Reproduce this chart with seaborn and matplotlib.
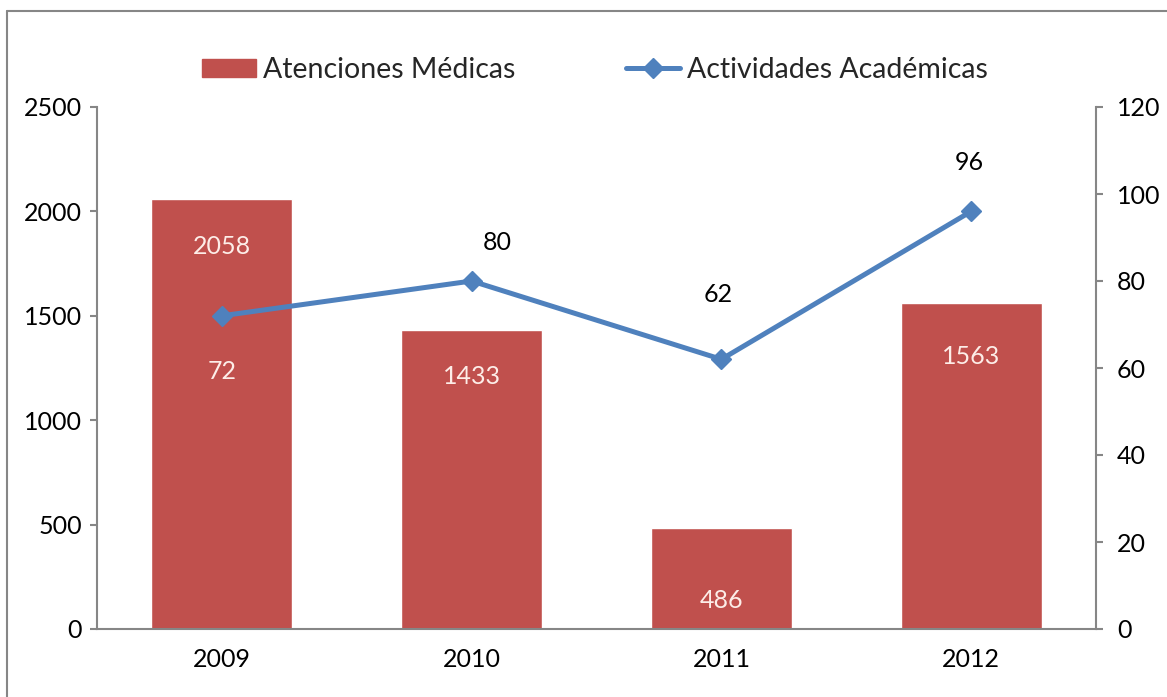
import matplotlib
matplotlib.use("Agg")
import matplotlib.pyplot as plt
import seaborn as sns
import pandas as pd
from matplotlib.lines import Line2D
from matplotlib.patches import Patch

years = ["2009", "2010", "2011", "2012"]
atenciones = [2058, 1433, 486, 1563]
actividades = [72, 80, 62, 96]
left_ticks = [0, 500, 1000, 1500, 2000, 2500]
right_ticks = [0, 20, 40, 60, 80, 100, 120]

sns.set_theme(style="white")
plt.rcParams['font.family'] = ['Lato', 'DejaVu Sans']

RED = "#C0504D"
BLUE = "#4F81BD"
GRAY = "#868686"
FS = 18

df = pd.DataFrame({"year": years, "atenciones": atenciones, "actividades": actividades})

fig = plt.figure(figsize=(11.67, 6.97), dpi=100)
ax = fig.add_axes([97/1167, 1-629/697, (1096-97)/1167, (629-107)/697])

sns.barplot(data=df, x="year", y="atenciones", color=RED, width=0.565,
            saturation=1, ax=ax)
ax.set_xlim(-0.5, 3.5)
ax.set_ylim(0, 2500)
ax.set_yticks(left_ticks)
ax.set_xlabel("")
ax.set_ylabel("")

ax2 = ax.twinx()
ax2.plot(range(len(years)), actividades, color=BLUE, lw=3.6, marker="D",
         markersize=10, zorder=5)
ax2.set_ylim(0, 120)
ax2.set_yticks(right_ticks)

for a in (ax, ax2):
    for s in a.spines.values():
        s.set_visible(False)
    a.tick_params(axis="y", length=5, width=1.5, color=GRAY, direction="out",
                  labelsize=FS, pad=4, colors=GRAY, labelcolor="black")
    a.grid(False)
ax.spines["left"].set_visible(True)
ax.spines["bottom"].set_visible(True)
ax2.spines["right"].set_visible(True)
for s in (ax.spines["left"], ax.spines["bottom"], ax2.spines["right"]):
    s.set_color(GRAY)
    s.set_linewidth(1.5)
ax.tick_params(axis="x", length=0, labelsize=FS, pad=14, labelcolor="black")
ax.tick_params(axis="y", left=True, pad=6)
ax2.tick_params(axis="y", right=True, pad=10)

# bar labels (white)
bar_offsets = [-47, -47, -73, -54]
for i, v in enumerate(atenciones):
    ax.annotate(f"{v}", xy=(i, v), xytext=(0, bar_offsets[i] * 0.72),
                textcoords="offset points", ha="center", va="center",
                color="#FDEDE8", fontsize=FS)

# line labels
line_offsets = [(0, -56, "#FDEDE8"), (26, 38, "black"), (-3, 65, "black"), (-2, 49, "black")]
for i, v in enumerate(actividades):
    dx, dy, c = line_offsets[i]
    ax2.annotate(f"{v}", xy=(i, v), xytext=(dx * 0.72, dy * 0.72),
                 textcoords="offset points", ha="center", va="center",
                 color=c, fontsize=FS, zorder=6)

handles = [Patch(facecolor=RED, edgecolor=RED),
           Line2D([0], [0], color=BLUE, lw=3.6, marker="D", markersize=10)]
fig.legend(handles, ["Atenciones Médicas", "Actividades Académicas"],
           loc="center", bbox_to_anchor=(595/1167, 1-70/697), ncol=2,
           frameon=False, fontsize=20.5, handlelength=1.9, handletextpad=0.25,
           columnspacing=3.9, handleheight=0.6)

# figure border (left and top)
fig.add_artist(Line2D([6.5/1167, 6.5/1167], [0, 1-10.5/697], color=GRAY, lw=1.5,
                      transform=fig.transFigure))
fig.add_artist(Line2D([6.5/1167, 1], [1-10.5/697, 1-10.5/697], color=GRAY, lw=1.5,
                      transform=fig.transFigure))

fig.savefig("out.png", dpi=100)
